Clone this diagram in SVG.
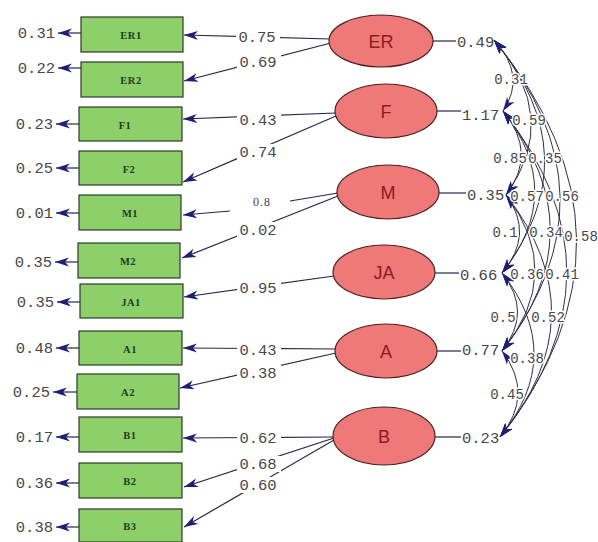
<svg xmlns="http://www.w3.org/2000/svg" width="598" height="542" viewBox="0 0 598 542">
<style>
.bg{fill:#ffffff}
.box{fill:#8dcf69;stroke:#2e3a2a;stroke-width:1.2}
.bt{font-family:"Liberation Serif","DejaVu Serif",serif;font-size:10.5px;font-weight:bold;fill:#1d3b1d;text-anchor:middle;letter-spacing:0.5px}
.ell{fill:#ef7878;stroke:#4a2222;stroke-width:1.2}
.et{font-family:"Liberation Sans",Arial,sans-serif;font-size:18px;fill:#8a1d1d;text-anchor:middle}
.ln{stroke:#26264e;stroke-width:1.2;fill:none}
.cv{stroke:#2e2e48;stroke-width:1;fill:none}
.lb{fill:#ffffff}
.num{font-family:"Liberation Mono","DejaVu Sans Mono",monospace;font-size:15.5px;fill:#474747}
.cvl{font-family:"Liberation Mono","DejaVu Sans Mono",monospace;font-size:14px;fill:#474747;stroke:#ffffff;stroke-width:3;paint-order:stroke;stroke-linejoin:round;text-anchor:middle}
.err{font-family:"Liberation Mono","DejaVu Sans Mono",monospace;font-size:15.5px;fill:#474747;text-anchor:end}
.sm{font-family:"Liberation Serif","DejaVu Serif",serif;font-size:12px;fill:#444;text-anchor:middle;letter-spacing:1px}
.c{text-anchor:middle}
</style>
<defs>
<marker id="ah" markerUnits="userSpaceOnUse" markerWidth="15" markerHeight="10" refX="14" refY="5" orient="auto-start-reverse">
<path d="M0,0.5 L14,5 L0,9.5 L4,5 z" fill="#1f1f78"/>
</marker>
</defs>
<rect class="bg" x="0" y="0" width="598" height="542"/>
<g id="connectors">
<!-- error arrows -->
<line class="ln" x1="81" y1="33" x2="58" y2="33" marker-end="url(#ah)"/>
<line class="ln" x1="81" y1="68" x2="58" y2="68" marker-end="url(#ah)"/>
<line class="ln" x1="79" y1="124" x2="56" y2="124" marker-end="url(#ah)"/>
<line class="ln" x1="79" y1="168" x2="56" y2="168" marker-end="url(#ah)"/>
<line class="ln" x1="79" y1="213" x2="56" y2="213" marker-end="url(#ah)"/>
<line class="ln" x1="78" y1="262" x2="55" y2="262" marker-end="url(#ah)"/>
<line class="ln" x1="80" y1="302" x2="57" y2="302" marker-end="url(#ah)"/>
<line class="ln" x1="79" y1="348" x2="56" y2="348" marker-end="url(#ah)"/>
<line class="ln" x1="77" y1="392" x2="53" y2="392" marker-end="url(#ah)"/>
<line class="ln" x1="79" y1="437" x2="56" y2="437" marker-end="url(#ah)"/>
<line class="ln" x1="79" y1="483" x2="56" y2="483" marker-end="url(#ah)"/>
<line class="ln" x1="79" y1="527" x2="56" y2="527" marker-end="url(#ah)"/>
<!-- loadings -->
<line class="ln" x1="330" y1="39" x2="184" y2="35" marker-end="url(#ah)"/>
<line class="ln" x1="331" y1="43" x2="184" y2="81" marker-end="url(#ah)"/>
<line class="ln" x1="336" y1="113" x2="183" y2="119" marker-end="url(#ah)"/>
<line class="ln" x1="336" y1="116" x2="183" y2="182" marker-end="url(#ah)"/>
<line class="ln" x1="338" y1="193" x2="290" y2="201"/>
<line class="ln" x1="230" y1="211" x2="183" y2="215" marker-end="url(#ah)"/>
<line class="ln" x1="338" y1="196" x2="182" y2="258" marker-end="url(#ah)"/>
<line class="ln" x1="334" y1="276" x2="184" y2="297" marker-end="url(#ah)"/>
<line class="ln" x1="336" y1="349" x2="183" y2="348" marker-end="url(#ah)"/>
<line class="ln" x1="336" y1="353" x2="180" y2="388" marker-end="url(#ah)"/>
<line class="ln" x1="334" y1="437" x2="183" y2="438" marker-end="url(#ah)"/>
<line class="ln" x1="334" y1="438" x2="184" y2="487" marker-end="url(#ah)"/>
<line class="ln" x1="334" y1="440" x2="184" y2="527" marker-end="url(#ah)"/>
<!-- variance lines -->
<line class="ln" x1="433" y1="41" x2="456" y2="41"/>
<line class="ln" x1="437" y1="111" x2="461" y2="111"/>
<line class="ln" x1="439" y1="193" x2="466" y2="193"/>
<line class="ln" x1="435" y1="273" x2="459" y2="273"/>
<line class="ln" x1="437" y1="351" x2="461" y2="351"/>
<line class="ln" x1="435" y1="437" x2="461" y2="437"/>
<!-- loading labels -->
<rect class="lb" x="236" y="29" width="44" height="16"/><text class="num c" x="257" y="42">0.75</text>
<rect class="lb" x="237" y="54" width="44" height="16"/><text class="num c" x="258" y="67">0.69</text>
<rect class="lb" x="237" y="112" width="44" height="16"/><text class="num c" x="258" y="125">0.43</text>
<rect class="lb" x="237" y="144" width="44" height="16"/><text class="num c" x="258" y="157">0.74</text>
<text class="sm" x="262" y="206">0.8</text>
<rect class="lb" x="237" y="222" width="44" height="16"/><text class="num c" x="258" y="235">0.02</text>
<rect class="lb" x="237" y="280" width="44" height="16"/><text class="num c" x="258" y="293">0.95</text>
<rect class="lb" x="237" y="342" width="44" height="16"/><text class="num c" x="258" y="355">0.43</text>
<rect class="lb" x="237" y="365" width="44" height="16"/><text class="num c" x="258" y="378">0.38</text>
<rect class="lb" x="237" y="430" width="44" height="16"/><text class="num c" x="258" y="443">0.62</text>
<rect class="lb" x="237" y="456" width="44" height="16"/><text class="num c" x="258" y="469">0.68</text>
<rect class="lb" x="237" y="477" width="44" height="16"/><text class="num c" x="258" y="490">0.60</text>
<!-- variance labels -->
<text class="num" x="457" y="47">0.49</text>
<text class="num" x="462" y="120">1.17</text>
<text class="num" x="467" y="200">0.35</text>
<text class="num" x="460" y="280">0.66</text>
<text class="num" x="462" y="355">0.77</text>
<text class="num" x="462" y="443">0.23</text>
<!-- covariance curves -->
<path class="cv" d="M494,40 Q527,75.5 503,111" marker-start="url(#ah)" marker-end="url(#ah)"/>
<path class="cv" d="M494,40 Q562,117.5 506,195" marker-start="url(#ah)" marker-end="url(#ah)"/>
<path class="cv" d="M494,40 Q591,156.5 502,273" marker-start="url(#ah)" marker-end="url(#ah)"/>
<path class="cv" d="M494,40 Q622,195.5 502,351" marker-start="url(#ah)" marker-end="url(#ah)"/>
<path class="cv" d="M494,40 Q656,238.5 500,437" marker-start="url(#ah)" marker-end="url(#ah)"/>
<path class="cv" d="M503,111 Q538,153 506,195" marker-start="url(#ah)" marker-end="url(#ah)"/>
<path class="cv" d="M503,111 Q567,192 502,273" marker-start="url(#ah)" marker-end="url(#ah)"/>
<path class="cv" d="M503,111 Q598,231 502,351" marker-start="url(#ah)" marker-end="url(#ah)"/>
<path class="cv" d="M503,111 Q632,274 500,437" marker-start="url(#ah)" marker-end="url(#ah)"/>
<path class="cv" d="M506,195 Q535,234 502,273" marker-start="url(#ah)" marker-end="url(#ah)"/>
<path class="cv" d="M506,195 Q566,273 502,351" marker-start="url(#ah)" marker-end="url(#ah)"/>
<path class="cv" d="M506,195 Q600,316 500,437" marker-start="url(#ah)" marker-end="url(#ah)"/>
<path class="cv" d="M502,273 Q533,312 502,351" marker-start="url(#ah)" marker-end="url(#ah)"/>
<path class="cv" d="M502,273 Q567,355 500,437" marker-start="url(#ah)" marker-end="url(#ah)"/>
<path class="cv" d="M502,351 Q535,394 500,437" marker-start="url(#ah)" marker-end="url(#ah)"/>
<!-- covariance labels -->
<text class="cvl" x="511" y="84">0.31</text>
<text class="cvl" x="529" y="125">0.59</text>
<text class="cvl" x="510" y="163">0.85</text>
<text class="cvl" x="545" y="163">0.35</text>
<text class="cvl" x="527" y="201">0.57</text>
<text class="cvl" x="562" y="201">0.56</text>
<text class="cvl" x="505" y="237">0.1</text>
<text class="cvl" x="546" y="237">0.34</text>
<text class="cvl" x="581" y="241">0.58</text>
<text class="cvl" x="527" y="279">0.36</text>
<text class="cvl" x="562" y="279">0.41</text>
<text class="cvl" x="503" y="322">0.5</text>
<text class="cvl" x="548" y="322">0.52</text>
<text class="cvl" x="527" y="363">0.38</text>
<text class="cvl" x="507" y="399">0.45</text>
<!-- error labels -->
<text class="err" x="55" y="38">0.31</text>
<text class="err" x="55" y="73">0.22</text>
<text class="err" x="53" y="129">0.23</text>
<text class="err" x="53" y="173">0.25</text>
<text class="err" x="53" y="218">0.01</text>
<text class="err" x="52" y="267">0.35</text>
<text class="err" x="54" y="307">0.35</text>
<text class="err" x="53" y="353">0.48</text>
<text class="err" x="50" y="397">0.25</text>
<text class="err" x="53" y="442">0.17</text>
<text class="err" x="53" y="488">0.36</text>
<text class="err" x="53" y="532">0.38</text>
</g>
<g id="ER1"><rect class="box" x="81" y="17" width="102" height="35"/><text class="bt" x="131" y="39">ER1</text></g>
<g id="ER2"><rect class="box" x="81" y="62" width="102" height="35"/><text class="bt" x="131" y="84">ER2</text></g>
<g id="F1"><rect class="box" x="79" y="107" width="103" height="34"/><text class="bt" x="125" y="129">F1</text></g>
<g id="F2"><rect class="box" x="79" y="151" width="103" height="34"/><text class="bt" x="129" y="173">F2</text></g>
<g id="M1"><rect class="box" x="79" y="195" width="102" height="35"/><text class="bt" x="130" y="217">M1</text></g>
<g id="M2"><rect class="box" x="78" y="243" width="102" height="35"/><text class="bt" x="128" y="265">M2</text></g>
<g id="JA1"><rect class="box" x="80" y="284" width="103" height="34"/><text class="bt" x="131" y="306">JA1</text></g>
<g id="A1"><rect class="box" x="79" y="331" width="103" height="34"/><text class="bt" x="130" y="353">A1</text></g>
<g id="A2"><rect class="box" x="77" y="374" width="102" height="35"/><text class="bt" x="128" y="396">A2</text></g>
<g id="B1"><rect class="box" x="79" y="417" width="103" height="35"/><text class="bt" x="130" y="439">B1</text></g>
<g id="B2"><rect class="box" x="79" y="463" width="103" height="35"/><text class="bt" x="130" y="485">B2</text></g>
<g id="B3"><rect class="box" x="79" y="509" width="103" height="33"/><text class="bt" x="130" y="530">B3</text></g>
<g id="ER"><ellipse class="ell" cx="381" cy="41" rx="52" ry="26"/><text class="et" x="381" y="48">ER</text></g>
<g id="F"><ellipse class="ell" cx="386" cy="111" rx="51" ry="27"/><text class="et" x="386" y="118">F</text></g>
<g id="M"><ellipse class="ell" cx="388" cy="192" rx="51" ry="27"/><text class="et" x="388" y="199">M</text></g>
<g id="JA"><ellipse class="ell" cx="384" cy="272" rx="51" ry="27"/><text class="et" x="384" y="279">JA</text></g>
<g id="A"><ellipse class="ell" cx="386" cy="351" rx="51" ry="27"/><text class="et" x="386" y="358">A</text></g>
<g id="B"><ellipse class="ell" cx="384" cy="436" rx="51" ry="29"/><text class="et" x="384" y="443">B</text></g>
</svg>
